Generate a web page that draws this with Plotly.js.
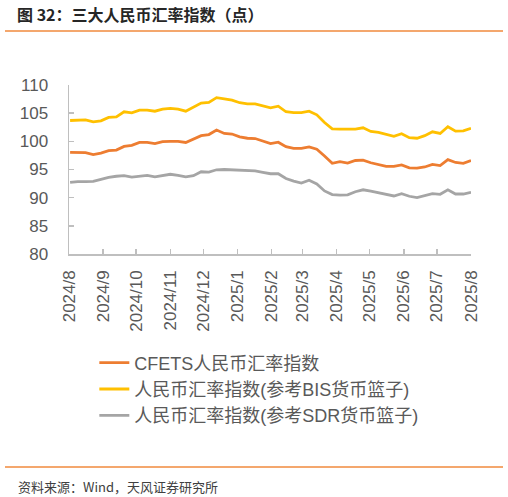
<!DOCTYPE html>
<html>
<head>
<meta charset="utf-8">
<script src="https://cdn.plot.ly/plotly-3.0.1.min.js"></script>
<style>
  body { margin: 0; background: #fff; }
  #chart { width: 508px; height: 497px; }
</style>
</head>
<body>
<div id="chart"></div>
<script>
// weekly fixing dates (Fridays)
var dates = [
  '2024-08-02', '2024-08-09', '2024-08-16', '2024-08-23', '2024-08-30',
  '2024-09-06', '2024-09-13', '2024-09-20', '2024-09-27',
  '2024-10-04', '2024-10-11', '2024-10-18', '2024-10-25',
  '2024-11-01', '2024-11-08', '2024-11-15', '2024-11-22', '2024-11-29',
  '2024-12-06', '2024-12-13', '2024-12-20', '2024-12-27',
  '2025-01-03', '2025-01-10', '2025-01-17', '2025-01-24', '2025-01-31',
  '2025-02-07', '2025-02-14', '2025-02-21', '2025-02-28',
  '2025-03-07', '2025-03-14', '2025-03-21', '2025-03-28',
  '2025-04-04', '2025-04-11', '2025-04-18', '2025-04-25',
  '2025-05-02', '2025-05-09', '2025-05-16', '2025-05-23', '2025-05-30',
  '2025-06-06', '2025-06-13', '2025-06-20', '2025-06-27',
  '2025-07-04', '2025-07-11', '2025-07-18', '2025-07-25', '2025-08-01'
];

var cfets = [98.05, 98.0, 98.0, 97.65, 97.9, 98.35, 98.45, 99.1, 99.3, 99.8,
  99.8, 99.6, 99.95, 100.0, 100.0, 99.8, 100.4, 101.0, 101.2, 102.0,
  101.4, 101.3, 100.8, 100.55, 100.5, 100.05, 99.6, 99.85, 99.05, 98.75,
  98.75, 99.0, 98.6, 97.4, 96.1, 96.4, 96.15, 96.6, 96.65, 96.2,
  95.85, 95.55, 95.55, 95.8, 95.3, 95.25, 95.45, 95.9, 95.7, 96.75,
  96.25, 96.1, 96.6];

var bis = [103.7, 103.8, 103.8, 103.45, 103.65, 104.25, 104.35, 105.25, 105.05, 105.55,
  105.55, 105.35, 105.7, 105.85, 105.7, 105.35, 106.0, 106.8, 106.9, 107.75,
  107.55, 107.3, 106.85, 106.65, 106.65, 106.35, 105.95, 106.25, 105.25, 105.1,
  105.1, 105.35, 104.7, 103.35, 102.2, 102.15, 102.15, 102.15, 102.4, 101.75,
  101.6, 101.2, 100.9, 101.35, 100.65, 100.55, 101.0, 101.7, 101.4, 102.6,
  101.8, 101.85, 102.3];

var sdr = [92.7, 92.85, 92.85, 92.9, 93.25, 93.6, 93.8, 93.9, 93.65, 93.85,
  93.95, 93.7, 93.9, 94.15, 93.95, 93.7, 93.9, 94.6, 94.55, 94.95,
  95.0, 94.95, 94.8, 94.75, 94.75, 94.5, 94.25, 94.25, 93.4, 92.95,
  92.6, 93.1, 92.45, 91.2, 90.55, 90.45, 90.5, 91.05, 91.4, 91.15,
  90.85, 90.6, 90.3, 90.7, 90.25, 90.0, 90.35, 90.7, 90.6, 91.4,
  90.65, 90.65, 90.95];

var seriesNames = ['CFETS人民币汇率指数', '人民币汇率指数(参考BIS货币篮子)', '人民币汇率指数(参考SDR货币篮子)'];

var monthTicks = ['2024-08-01', '2024-09-01', '2024-10-01', '2024-11-01', '2024-12-01',
  '2025-01-01', '2025-02-01', '2025-03-01', '2025-04-01', '2025-05-01',
  '2025-06-01', '2025-07-01', '2025-08-01'];
var monthLabels = ['2024/8', '2024/9', '2024/10', '2024/11', '2024/12', '2025/1',
  '2025/2', '2025/3', '2025/4', '2025/5', '2025/6', '2025/7', '2025/8'];

var FONT = '"Liberation Sans", Arial, "Noto Sans CJK SC", sans-serif';
var GREY_TXT = '#595959';
var AXIS_COL = '#bfbfbf';

var data = [
  { x: dates, y: cfets, name: seriesNames[0], type: 'scatter', mode: 'lines',
    line: { color: '#ED7D31', width: 2.8 } },
  { x: dates, y: bis, name: seriesNames[1], type: 'scatter', mode: 'lines',
    line: { color: '#FFC000', width: 2.8 } },
  { x: dates, y: sdr, name: seriesNames[2], type: 'scatter', mode: 'lines',
    line: { color: '#A5A5A5', width: 2.8 } }
];

var layout = {
  width: 508,
  height: 497,
  margin: { l: 69, r: 37, t: 85, b: 243 },
  paper_bgcolor: '#fff',
  plot_bgcolor: '#fff',
  font: { family: FONT, color: GREY_TXT },
  showlegend: true,
  title: {
    text: '图 32：三大人民币汇率指数（点）',
    font: { family: '"Noto Sans CJK SC", sans-serif', size: 16, color: '#262626', weight: 'bold' },
    x: 17 / 508, xanchor: 'left',
    y: 1 - 15 / 497, yanchor: 'middle'
  },
  xaxis: {
    type: 'date',
    range: ['2024-08-01', '2025-08-01'],
    tickmode: 'array',
    tickvals: monthTicks,
    ticktext: monthLabels,
    tickangle: -90,
    tickfont: { size: 17, color: GREY_TXT },
    ticks: 'inside',
    ticklen: 5,
    tickcolor: AXIS_COL,
    tickwidth: 1.5,
    ticklabelstandoff: 8,
    showline: true,
    linecolor: AXIS_COL,
    linewidth: 1.5,
    showgrid: false,
    zeroline: false,
    fixedrange: true
  },
  yaxis: {
    range: [80, 110],
    dtick: 5,
    tick0: 80,
    tickfont: { size: 17, color: GREY_TXT },
    ticks: 'inside',
    ticklen: 5,
    tickcolor: AXIS_COL,
    tickwidth: 1.5,
    ticklabelstandoff: 16,
    showline: true,
    linecolor: AXIS_COL,
    linewidth: 1.5,
    showgrid: false,
    zeroline: false,
    fixedrange: true
  },
  legend: {
    x: 0.063, xanchor: 'left',
    y: -0.535, yanchor: 'top',
    font: { family: FONT, size: 18, color: GREY_TXT },
    bgcolor: 'rgba(0,0,0,0)',
    traceorder: 'normal'
  },
  shapes: [
    // orange rule under the title
    { type: 'line', xref: 'paper', yref: 'paper',
      x0: -64 / 402, x1: 434 / 402, y0: 223 / 169, y1: 223 / 169,
      line: { color: '#F08A3C', width: 1.5 } },
    // orange rule above the source note
    { type: 'line', xref: 'paper', yref: 'paper',
      x0: -64 / 402, x1: 434 / 402, y0: -213 / 169, y1: -213 / 169,
      line: { color: '#F08A3C', width: 1.5 } }
  ],
  annotations: [
    { text: '资料来源：Wind，天风证券研究所', showarrow: false,
      xref: 'paper', yref: 'paper', x: -53 / 402, y: -232 / 169,
      xanchor: 'left', yanchor: 'middle',
      font: { family: '"Noto Sans CJK SC", sans-serif', size: 13, color: '#404040' } }
  ]
};

Plotly.newPlot('chart', data, layout, { displayModeBar: false, staticPlot: true });
</script>
</body>
</html>
